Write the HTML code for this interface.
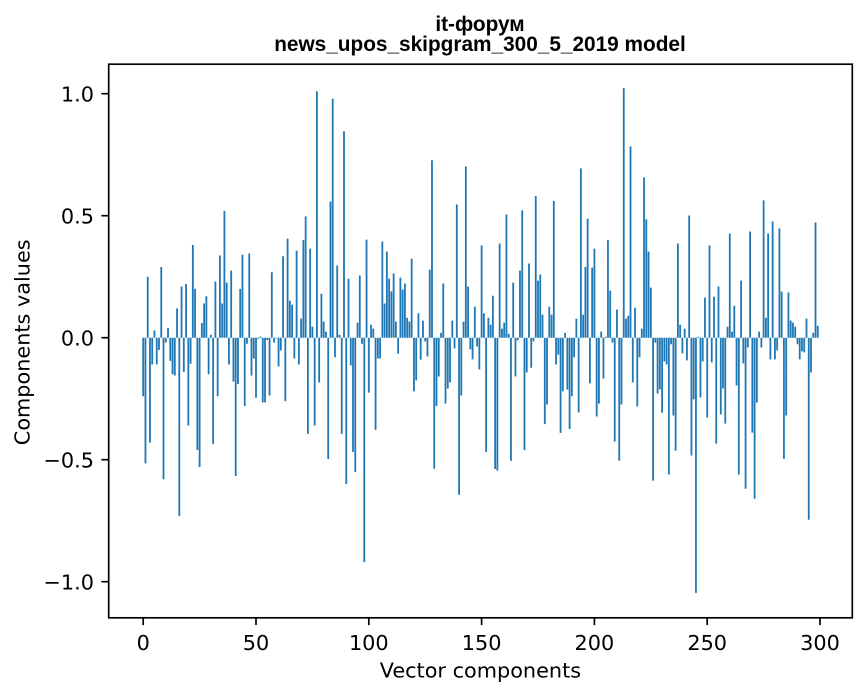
<!DOCTYPE html>
<html>
<head>
<meta charset="utf-8">
<style>
  html, body { margin: 0; padding: 0; background: #ffffff; }
  svg { display: block; }
  .tick { font-family: "DejaVu Sans", "Liberation Sans", sans-serif; font-size: 20.8px; fill: #000; }
  .title { font-family: "Liberation Sans", "DejaVu Sans", sans-serif; font-size: 20.8px; font-weight: bold; fill: #000; }
</style>
</head>
<body>
<svg width="867" height="696" viewBox="0 0 867 696" xmlns="http://www.w3.org/2000/svg">
  <rect x="0" y="0" width="867" height="696" fill="#ffffff"/>

  <!-- bars -->
  <g transform="translate(143.2,337.7) scale(2.2561,-244)">
    <path fill="#1f77b4" d="M-0.4 0
v-.24h.8V0zm1 0v-.515h.8V0zm1 0v.25h.8V0zm1 0v-.43h.8V0zm1 0v-.11h.8V0zm1 0v.03h.8V0zm1 0v-.11h.8V0zm1 0v-.05h.8V0zm1 0v.29h.8V0zm1 0v-.58h.8V0zm1 0
v-.02h.8V0zm1 0v.04h.8V0zm1 0v-.095h.8V0zm1 0v-.15h.8V0zm1 0v-.155h.8V0zm1 0v.12h.8V0zm1 0v-.73h.8V0zm1 0v.21h.8V0zm1 0v-.14h.8V0zm1 0v.22h.8V0zm1 0
v-.36h.8V0zm1 0v-.107h.8V0zm1 0v.38h.8V0zm1 0v.2h.8V0zm1 0v-.46h.8V0zm1 0v-.53h.8V0zm1 0v.06h.8V0zm1 0v.14h.8V0zm1 0v.17h.8V0zm1 0v-.15h.8V0zm1 0
v.012h.8V0zm1 0v-.435h.8V0zm1 0v.23h.8V0zm1 0v-.24h.8V0zm1 0v.337h.8V0zm1 0v.14h.8V0zm1 0v.52h.8V0zm1 0v.226h.8V0zm1 0v-.11h.8V0zm1 0v.275h.8V0zm1 0
v-.18h.8V0zm1 0v-.567h.8V0zm1 0v-.19h.8V0zm1 0v.2h.8V0zm1 0v.34h.8V0zm1 0v-.28h.8V0zm1 0v-.025h.8V0zm1 0v.345h.8V0zm1 0v-.155h.8V0zm1 0v-.086h.8V0zm1 0
v-.246h.8V0zm1 0v-.005h.8V0zm1 0v.005h.8V0zm1 0v-.265h.8V0zm1 0v-.265h.8V0zm1 0v-.01h.8V0zm1 0v-.237h.8V0zm1 0v.268h.8V0zm1 0v-.02h.8V0zm1 0v-.003h.8V0zm1 0
v-.118h.8V0zm1 0v-.052h.8V0zm1 0v.334h.8V0zm1 0v-.26h.8V0zm1 0v.406h.8V0zm1 0v.152h.8V0zm1 0v.135h.8V0zm1 0v-.085h.8V0zm1 0v.357h.8V0zm1 0v-.11h.8V0zm1 0
v.078h.8V0zm1 0v.4h.8V0zm1 0v.497h.8V0zm1 0v-.394h.8V0zm1 0v.365h.8V0zm1 0v.045h.8V0zm1 0v-.36h.8V0zm1 0v1.01h.8V0zm1 0v-.183h.8V0zm1 0v.18h.8V0zm1 0
v.066h.8V0zm1 0v.025h.8V0zm1 0v-.497h.8V0zm1 0v.558h.8V0zm1 0v.98h.8V0zm1 0v-.08h.8V0zm1 0v.296h.8V0zm1 0v.012h.8V0zm1 0v-.394h.8V0zm1 0v.846h.8V0zm1 0
v-.6h.8V0zm1 0v.242h.8V0zm1 0v-.114h.8V0zm1 0v-.468h.8V0zm1 0v-.55h.8V0zm1 0v.062h.8V0zm1 0v.255h.8V0zm1 0v-.025h.8V0zm1 0v-.92h.8V0zm1 0v.402h.8V0zm1 0
v-.225h.8V0zm1 0v.053h.8V0zm1 0v.037h.8V0zm1 0v-.378h.8V0zm1 0v-.085h.8V0zm1 0v-.085h.8V0zm1 0v.394h.8V0zm1 0v.14h.8V0zm1 0v.353h.8V0zm1 0v.242h.8V0zm1 0
v.19h.8V0zm1 0v.263h.8V0zm1 0v.066h.8V0zm1 0v-.066h.8V0zm1 0v.246h.8V0zm1 0v.197h.8V0zm1 0v.222h.8V0zm1 0v.082h.8V0zm1 0v.066h.8V0zm1 0v.324h.8V0zm1 0
v-.22h.8V0zm1 0v-.175h.8V0zm1 0v.1h.8V0zm1 0v-.09h.8V0zm1 0v.07h.8V0zm1 0v-.015h.8V0zm1 0v-.077h.8V0zm1 0v.279h.8V0zm1 0v.727h.8V0zm1 0v-.537h.8V0zm1 0
v-.28h.8V0zm1 0v-.159h.8V0zm1 0v.02h.8V0zm1 0v.222h.8V0zm1 0v-.27h.8V0zm1 0v-.208h.8V0zm1 0v-.183h.8V0zm1 0v.07h.8V0zm1 0v-.044h.8V0zm1 0v.546h.8V0zm1 0
v-.644h.8V0zm1 0v-.237h.8V0zm1 0v.066h.8V0zm1 0v.702h.8V0zm1 0v.21h.8V0zm1 0v-.048h.8V0zm1 0v-.089h.8V0zm1 0v.127h.8V0zm1 0v-.036h.8V0zm1 0v-.13h.8V0zm1 0
v.378h.8V0zm1 0v.1h.8V0zm1 0v-.468h.8V0zm1 0v.082h.8V0zm1 0v.053h.8V0zm1 0v.172h.8V0zm1 0v-.538h.8V0zm1 0v-.545h.8V0zm1 0v.386h.8V0zm1 0v.037h.8V0zm1 0
v.062h.8V0zm1 0v.505h.8V0zm1 0v.016h.8V0zm1 0v-.505h.8V0zm1 0v.226h.8V0zm1 0v-.159h.8V0zm1 0v-.011h.8V0zm1 0v.275h.8V0zm1 0v.522h.8V0zm1 0v-.46h.8V0zm1 0
v-.142h.8V0zm1 0v.304h.8V0zm1 0v-.123h.8V0zm1 0v-.015h.8V0zm1 0v.58h.8V0zm1 0v.234h.8V0zm1 0v.259h.8V0zm1 0v.094h.8V0zm1 0v-.354h.8V0zm1 0v-.274h.8V0zm1 0
v.127h.8V0zm1 0v.094h.8V0zm1 0v.56h.8V0zm1 0v-.11h.8V0zm1 0v-.07h.8V0zm1 0v-.39h.8V0zm1 0v-.22h.8V0zm1 0v.02h.8V0zm1 0v-.213h.8V0zm1 0v-.374h.8V0zm1 0
v-.24h.8V0zm1 0v-.08h.8V0zm1 0v.078h.8V0zm1 0v-.306h.8V0zm1 0v.694h.8V0zm1 0v.094h.8V0zm1 0v.29h.8V0zm1 0v.488h.8V0zm1 0v-.187h.8V0zm1 0v.287h.8V0zm1 0
v.365h.8V0zm1 0v-.323h.8V0zm1 0v-.27h.8V0zm1 0v.025h.8V0zm1 0v-.167h.8V0zm1 0v.004h.8V0zm1 0v.4h.8V0zm1 0v.193h.8V0zm1 0v-.02h.8V0zm1 0v-.426h.8V0zm1 0
v.115h.8V0zm1 0v-.504h.8V0zm1 0v-.274h.8V0zm1 0v1.023h.8V0zm1 0v.078h.8V0zm1 0v.09h.8V0zm1 0v.784h.8V0zm1 0v-.183h.8V0zm1 0v.123h.8V0zm1 0v-.282h.8V0zm1 0
v-.08h.8V0zm1 0v.037h.8V0zm1 0v.657h.8V0zm1 0v.485h.8V0zm1 0v.353h.8V0zm1 0v.205h.8V0zm1 0v-.586h.8V0zm1 0v-.02h.8V0zm1 0v-.229h.8V0zm1 0v-.212h.8V0zm1 0
v-.307h.8V0zm1 0v-.097h.8V0zm1 0v-.11h.8V0zm1 0v-.561h.8V0zm1 0v-.027h.8V0zm1 0v-.319h.8V0zm1 0v-.463h.8V0zm1 0v.386h.8V0zm1 0v.053h.8V0zm1 0v-.064h.8V0zm1 0
v.037h.8V0zm1 0v-.093h.8V0zm1 0v.501h.8V0zm1 0v-.483h.8V0zm1 0v-.253h.8V0zm1 0v-1.046h.8V0zm1 0v.004h.8V0zm1 0v-.245h.8V0zm1 0v-.097h.8V0zm1 0v.164h.8V0zm1 0
v-.327h.8V0zm1 0v.378h.8V0zm1 0v-.101h.8V0zm1 0v.168h.8V0zm1 0v-.434h.8V0zm1 0v.21h.8V0zm1 0v-.315h.8V0zm1 0v-.208h.8V0zm1 0v-.352h.8V0zm1 0v.045h.8V0zm1 0
v.427h.8V0zm1 0v.025h.8V0zm1 0v.131h.8V0zm1 0v-.196h.8V0zm1 0v-.561h.8V0zm1 0v.234h.8V0zm1 0v-.105h.8V0zm1 0v-.619h.8V0zm1 0v-.04h.8V0zm1 0v.435h.8V0zm1 0
v-.389h.8V0zm1 0v-.66h.8V0zm1 0v-.266h.8V0zm1 0v.025h.8V0zm1 0v-.04h.8V0zm1 0v.563h.8V0zm1 0v.082h.8V0zm1 0v.427h.8V0zm1 0v-.089h.8V0zm1 0v.476h.8V0zm1 0
v-.089h.8V0zm1 0v-.052h.8V0zm1 0v.448h.8V0zm1 0v.189h.8V0zm1 0v-.496h.8V0zm1 0v-.319h.8V0zm1 0v.185h.8V0zm1 0v.07h.8V0zm1 0v.062h.8V0zm1 0v.045h.8V0zm1 0
v-.027h.8V0zm1 0v-.089h.8V0zm1 0v-.056h.8V0zm1 0v-.06h.8V0zm1 0v.078h.8V0zm1 0v-.746h.8V0zm1 0v-.142h.8V0zm1 0v.02h.8V0zm1 0v.472h.8V0zm1 0v.049h.8V0z"/>
  </g>

  <!-- axes frame -->
  <rect x="108.7" y="64.2" width="743.6" height="553.6" fill="none" stroke="#000" stroke-width="1.67"/>

  <!-- y ticks -->
  <g stroke="#000" stroke-width="1.67">
    <line x1="101.4" y1="93.7" x2="108.7" y2="93.7"/>
    <line x1="101.4" y1="215.7" x2="108.7" y2="215.7"/>
    <line x1="101.4" y1="337.7" x2="108.7" y2="337.7"/>
    <line x1="101.4" y1="459.7" x2="108.7" y2="459.7"/>
    <line x1="101.4" y1="581.7" x2="108.7" y2="581.7"/>
  </g>
  <g class="tick" text-anchor="end">
    <text x="94" y="101.7">1.0</text>
    <text x="94" y="223.7">0.5</text>
    <text x="94" y="345.7">0.0</text>
    <text x="94" y="467.7">−0.5</text>
    <text x="94" y="589.7">−1.0</text>
  </g>

  <!-- x ticks -->
  <g stroke="#000" stroke-width="1.67">
    <line x1="143.2" y1="617.8" x2="143.2" y2="625.1"/>
    <line x1="256.0" y1="617.8" x2="256.0" y2="625.1"/>
    <line x1="368.8" y1="617.8" x2="368.8" y2="625.1"/>
    <line x1="481.6" y1="617.8" x2="481.6" y2="625.1"/>
    <line x1="594.4" y1="617.8" x2="594.4" y2="625.1"/>
    <line x1="707.2" y1="617.8" x2="707.2" y2="625.1"/>
    <line x1="820.0" y1="617.8" x2="820.0" y2="625.1"/>
  </g>
  <g class="tick" text-anchor="middle">
    <text x="143.2" y="650">0</text>
    <text x="256.0" y="650">50</text>
    <text x="368.8" y="650">100</text>
    <text x="481.6" y="650">150</text>
    <text x="594.4" y="650">200</text>
    <text x="707.2" y="650">250</text>
    <text x="820.0" y="650">300</text>
  </g>

  <!-- axis labels -->
  <text class="tick" x="480.4" y="677.7" text-anchor="middle">Vector components</text>
  <text class="tick" x="0" y="0" text-anchor="middle" transform="translate(29.5,342.3) rotate(-90)">Components values</text>

  <!-- title -->
  <text class="title" x="480" y="31" text-anchor="middle">it-форум</text>
  <text class="title" x="480" y="51" text-anchor="middle">news_upos_skipgram_300_5_2019 model</text>
</svg>
</body>
</html>
